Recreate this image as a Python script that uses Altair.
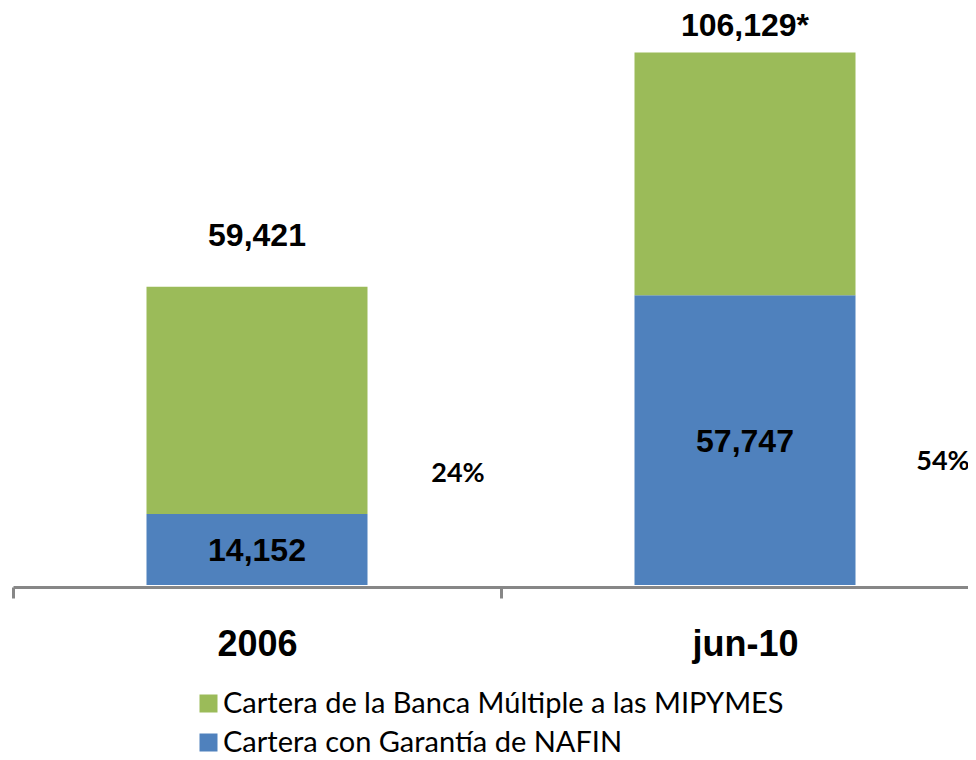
import altair as alt
import pandas as pd

categories = ["2006", "jun-10"]
nafin = [14152, 57747]
totals = [59421, 106129]
total_labels = ["59,421", "106,129*"]
nafin_labels = ["14,152", "57,747"]
pct_labels = ["24%", "54%"]
series_names = ["Cartera de la Banca Múltiple a las MIPYMES", "Cartera con Garantía de NAFIN"]
colors = ["#9BBB59", "#4F81BD"]

rows = []
for i, c in enumerate(categories):
    rows.append({"cat": c, "serie": series_names[1], "value": nafin[i], "ord": 0})
    rows.append({"cat": c, "serie": series_names[0], "value": totals[i] - nafin[i], "ord": 1})
bars_df = pd.DataFrame(rows)

lab_df = pd.DataFrame({
    "cat": categories,
    "total": totals,
    "total_label": total_labels,
    "nafin": nafin,
    "nafin_label": nafin_labels,
    "pct": pct_labels,
})
lab_df["mid"] = lab_df["nafin"] / 2

GRAY = "#878787"
x = alt.X(
    "cat:N",
    sort=categories,
    scale=alt.Scale(range=[0, 976], paddingInner=0, paddingOuter=0),
    axis=alt.Axis(
        title=None, labelAngle=0, labelFont="Liberation Sans", labelFontSize=36,
        labelFontWeight="bold", labelColor="#000000", labelPadding=29,
        domainColor=GRAY, domainWidth=3, tickColor=GRAY, tickWidth=3, tickSize=11,
        tickBand="extent", offset=2, grid=False,
    ),
)
yscale = alt.Scale(domain=[0, 110000])

bars = alt.Chart(bars_df).mark_bar(size=221).encode(
    x=x,
    y=alt.Y("value:Q", stack="zero", scale=yscale, axis=None),
    color=alt.Color(
        "serie:N",
        scale=alt.Scale(domain=series_names, range=colors),
        legend=alt.Legend(
            title=None, orient="none", legendX=181, legendY=656,
            symbolType="square", symbolSize=324, symbolStrokeWidth=0,
            symbolOpacity=1, labelFont="Lato", labelFontSize=29,
            labelColor="#000000", labelOffset=0, rowPadding=9, padding=0,
            labelLimit=1000, direction="vertical",
        ),
    ),
    order=alt.Order("ord:Q", sort="ascending"),
)

base = alt.Chart(lab_df)
num_font = dict(font="Liberation Sans", fontSize=32, fontWeight="bold", color="#000000",
                baseline="alphabetic", align="center")

total_2006 = base.transform_filter(alt.datum.cat == "2006").mark_text(dy=-41, **num_font).encode(
    x=x, y=alt.Y("total:Q", scale=yscale, axis=None), text="total_label:N")
total_jun = base.transform_filter(alt.datum.cat == "jun-10").mark_text(dy=-16, **num_font).encode(
    x=x, y=alt.Y("total:Q", scale=yscale, axis=None), text="total_label:N")
nafin_txt = base.mark_text(dy=12, **num_font).encode(
    x=x, y=alt.Y("mid:Q", scale=yscale, axis=None), text="nafin_label:N")

pct_font = dict(font="Lato", fontSize=27, fontWeight="bold", color="#000000",
                baseline="alphabetic", align="center")
pct_2006 = base.transform_filter(alt.datum.cat == "2006").mark_text(dx=201, dy=-103, **pct_font).encode(
    x=x, y=alt.datum(0), text="pct:N")
pct_jun = base.transform_filter(alt.datum.cat == "jun-10").mark_text(dx=198, dy=-115, **pct_font).encode(
    x=x, y=alt.datum(0), text="pct:N")

chart = alt.layer(bars, total_2006, total_jun, nafin_txt, pct_2006, pct_jun).properties(
    width=955, height=552,
    autosize=alt.AutoSizeParams(type="none"),
    padding={"left": 5, "top": 25, "right": 0, "bottom": 167},
).configure_view(stroke=None)

chart.save("out.html", embed_options={"renderer": "svg", "actions": False})
